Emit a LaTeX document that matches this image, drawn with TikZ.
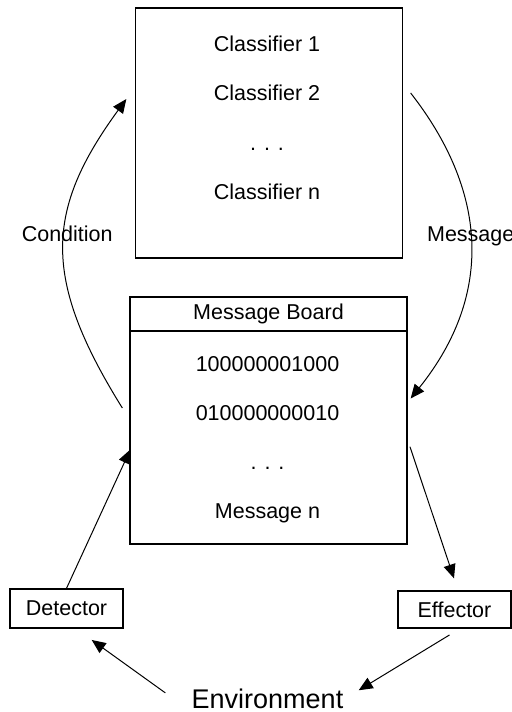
\documentclass[tikz,border=0pt]{standalone}
\usepackage{fontspec}
\setmainfont{Liberation Sans}
\usetikzlibrary{arrows.meta,calc,positioning}

\begin{document}
\begin{tikzpicture}[x=0.5pt, y=-0.5pt,
	lbl/.style={font=\fontsize{10.75}{13}\selectfont, inner sep=0},
	frame/.style={draw, line width=0.65pt, inner sep=0},
	flow/.style={-{Triangle[length=7pt,width=6pt]}, line width=0.5pt}]
	\useasboundingbox (0, 0) rectangle (512, 712);

	% classifier list
	\node[frame, minimum width=133.5pt, minimum height=125pt] (cls) at (269, 133) {};
	\node[lbl, anchor=base] (c1) at (267, 51.5) {Classifier 1};
	\node[lbl, anchor=base] (c2) at (267, 100.5) {Classifier 2};
	\node[lbl, anchor=base] (cdots) at (267, 150.5) {. . .};
	\node[lbl, anchor=base] (cn) at (267, 199.5) {Classifier n};

	% message board
	\node[frame, lbl, minimum width=138.5pt, minimum height=17pt] (hdr) at (268.5, 314) {Message Board};
	\node[frame, minimum width=138.5pt, minimum height=106.5pt] (body) at (268.5, 437.5) {};
	\node[lbl, anchor=base] (m1) at (267.5, 371.5) {100000001000};
	\node[lbl, anchor=base] (m2) at (267.5, 420.5) {010000000010};
	\node[lbl, anchor=base] (mdots) at (267.5, 469.5) {. . .};
	\node[lbl, anchor=base] (mn) at (267.5, 518.5) {Message n};

	% detector, effector, environment
	\node[frame, lbl, minimum width=56.5pt, minimum height=19.5pt] (det) at (66.5, 608.5) {Detector};
	\node[frame, lbl, minimum width=56.5pt, minimum height=18.5pt] (eff) at (454.5, 609.5) {Effector};
	\node[lbl, font=\fontsize{13.5}{16}\selectfont, anchor=base] (env) at (267.5, 708.5) {Environment};

	% loop between classifiers and board
	\draw[flow] ($(body.west)+(-7,-29.5)$) .. controls +(-81,-130) and +(-81,111) .. ($(cls.west)+(-8.5,-34)$);
	\draw[flow] ($(cls.east)+(7.5,-40)$) .. controls +(75,96) and +(85,-106) .. ($(body.east)+(3,-39)$);
	\node[lbl, anchor=base] (cond) at (67.2, 241.5) {Condition};
	\node[lbl, anchor=base west] (msg) at (426.7, 241.5) {Message};

	% outer loop
	\draw[flow] (det.north) -- ($(body.west)+(1,12)$);
	\draw[flow] ($(body.east)+(2.3,9.2)$) -- ($(eff.north)+(-0.5,-12)$);
	\draw[flow] ($(eff.south)+(-5,6.3)$) -- ($(env.east)+(15,-8.6)$);
	\draw[flow] ($(env.west)+(-26,-6)$) -- ($(det.south)+(25.2,11.3)$);

\end{tikzpicture}
\end{document}
